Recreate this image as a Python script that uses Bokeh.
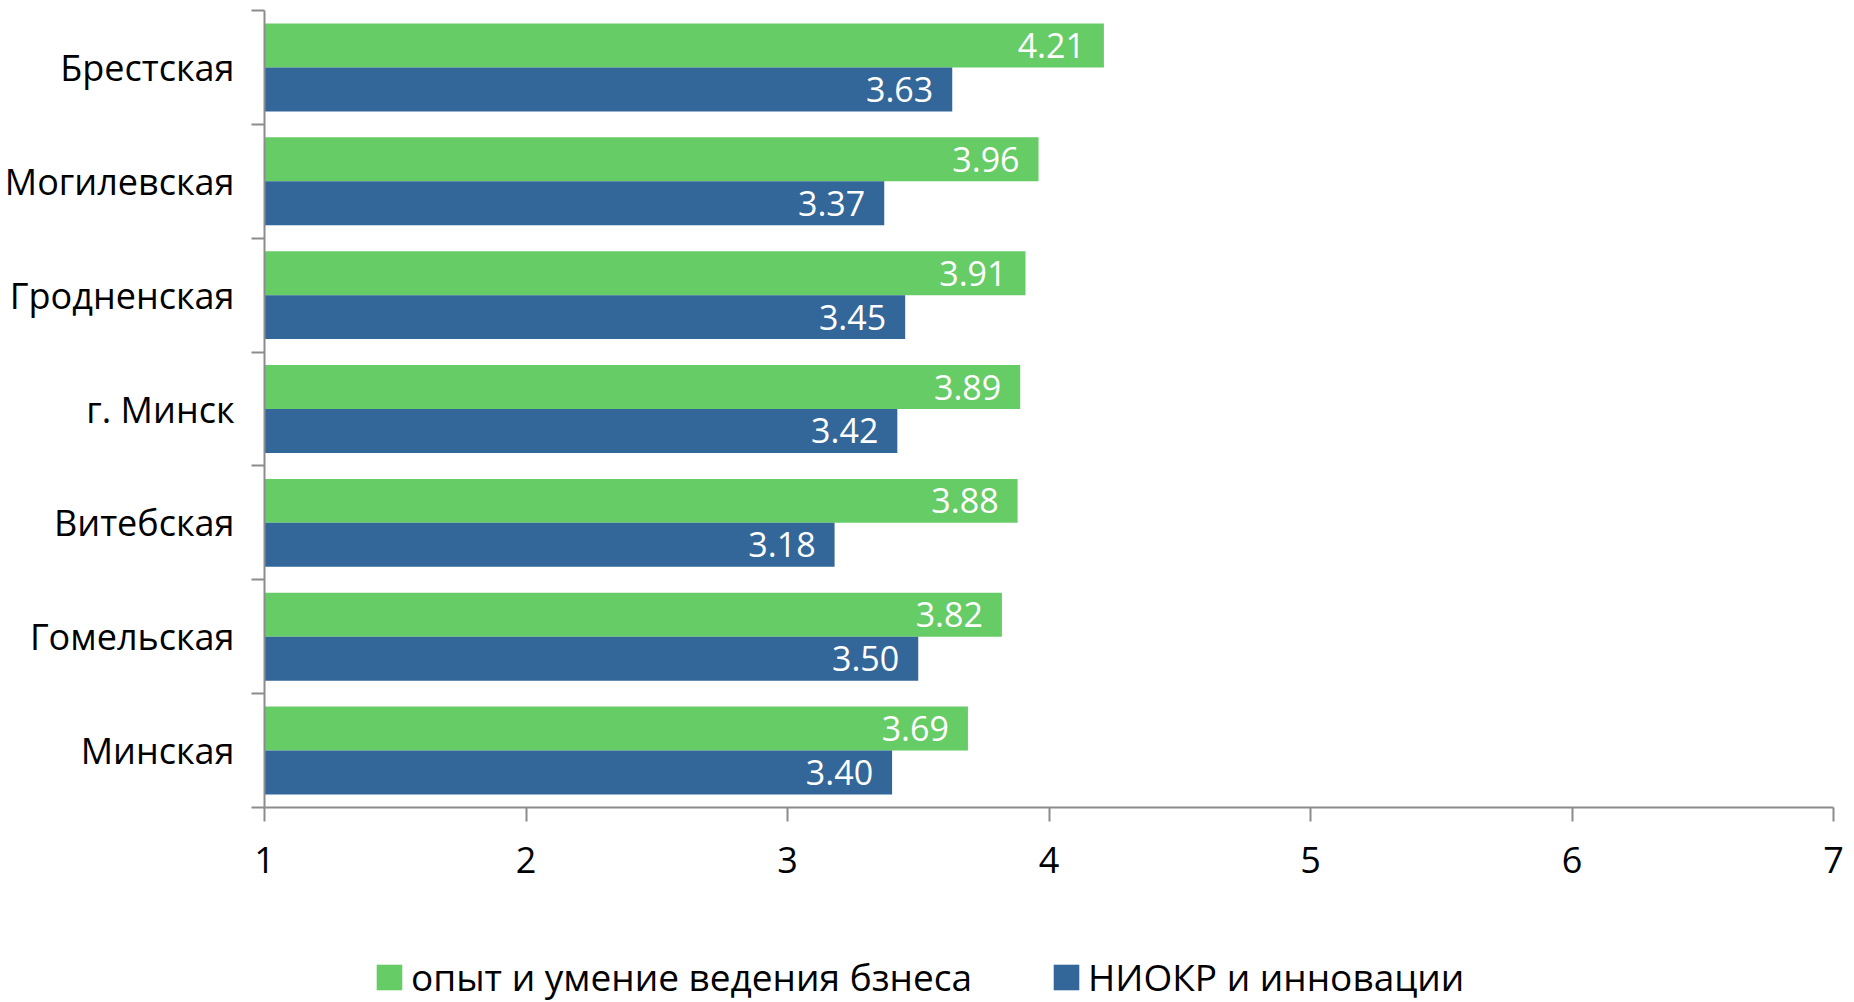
from bokeh.plotting import figure
from bokeh.models import ColumnDataSource, LabelSet, Legend, LegendItem, FixedTicker, Range1d
from bokeh.layouts import column
from bokeh.core.properties import value
from bokeh.embed import file_html
from bokeh.resources import INLINE

regions = ["Брестская", "Могилевская", "Гродненская", "г. Минск", "Витебская", "Гомельская", "Минская"]
business = [4.21, 3.96, 3.91, 3.89, 3.88, 3.82, 3.69]
rnd = [3.63, 3.37, 3.45, 3.42, 3.18, 3.50, 3.40]
series_names = ["опыт и умение ведения бзнеса", "НИОКР и инновации"]
x_ticks = [1, 2, 3, 4, 5, 6, 7]

n = len(regions)
centers = [n - i - 0.5 for i in range(n)]
bh = 0.386
FONT = "Open Sans"
GREEN = "#66CC66"
BLUE = "#336699"
AXIS = "#8c8c8c"
LEFT, RIGHT = 264, 21

src = ColumnDataSource(dict(
    y_g=[c + bh / 2 for c in centers],
    y_b=[c - bh / 2 for c in centers],
    g=business, b=rnd,
    gl=["%.2f" % v for v in business],
    bl=["%.2f" % v for v in rnd],
))

p = figure(width=1854, height=900, output_backend="svg", toolbar_location=None,
           x_range=Range1d(1, 7), y_range=Range1d(0, n),
           min_border_left=LEFT, min_border_right=RIGHT, min_border_top=10, min_border_bottom=93)
p.outline_line_color = None
p.xgrid.visible = False
p.ygrid.visible = False

rg = p.hbar(y="y_g", left=1, right="g", height=bh, source=src, fill_color=GREEN, line_color=None)
rb = p.hbar(y="y_b", left=1, right="b", height=bh, source=src, fill_color=BLUE, line_color=None)

for col, ycol, xcol in (("gl", "y_g", "g"), ("bl", "y_b", "b")):
    p.add_layout(LabelSet(x=xcol, y=ycol, text=col, source=src, x_offset=-19,
                          text_align="right", text_baseline="middle", text_color="white",
                          text_font=value(FONT), text_font_size=value("34px")))

# x axis
p.xaxis.ticker = FixedTicker(ticks=x_ticks)
p.xaxis.axis_line_color = AXIS
p.xaxis.axis_line_width = 2
p.xaxis.major_tick_line_color = AXIS
p.xaxis.major_tick_line_width = 2
p.xaxis.major_tick_out = 14
p.xaxis.major_tick_in = 0
p.xaxis.minor_tick_line_color = None
p.xaxis.major_label_text_font = FONT
p.xaxis.major_label_text_font_size = "36px"
p.xaxis.major_label_text_color = "black"
p.xaxis.major_label_standoff = 25

# y axis: labels at centers, ticks at boundaries (minor ticks)
p.yaxis.ticker = FixedTicker(ticks=centers, minor_ticks=[float(i) for i in range(n + 1)])
p.yaxis.major_label_overrides = {c: r for c, r in zip(centers, regions)}
p.yaxis.axis_line_color = AXIS
p.yaxis.axis_line_width = 2
p.yaxis.major_tick_line_color = None
p.yaxis.minor_tick_line_color = AXIS
p.yaxis.minor_tick_line_width = 2
p.yaxis.minor_tick_out = 13
p.yaxis.minor_tick_in = 0
p.yaxis.major_label_text_font = FONT
p.yaxis.major_label_text_font_size = "36px"
p.yaxis.major_label_text_color = "black"
p.yaxis.major_label_standoff = 17

# legend strip below the chart (swatches use zero-width bars so only the legend shows)
lp = figure(width=1854, height=102, output_backend="svg", toolbar_location=None,
            x_axis_type=None, y_axis_type=None, x_range=Range1d(0, 1), y_range=Range1d(0, 1),
            min_border_left=LEFT, min_border_right=RIGHT, min_border_top=0, min_border_bottom=0)
lp.outline_line_color = None
lg = lp.hbar(y=[0.5], left=[0], right=[0], height=0.5, fill_color=GREEN, line_color=None)
lb = lp.hbar(y=[0.5], left=[0], right=[0], height=0.5, fill_color=BLUE, line_color=None)
legend = Legend(items=[LegendItem(label=series_names[0], renderers=[lg]),
                       LegendItem(label=series_names[1], renderers=[lb])],
                orientation="horizontal", location=(373 - LEFT, 0),
                glyph_width=32, glyph_height=32, label_standoff=6, spacing=78,
                padding=0, margin=0, border_line_color=None, background_fill_alpha=0,
                label_text_font=FONT, label_text_font_size="37px", label_text_color="black",
                label_height=32)
lp.add_layout(legend, "center")

layout = column(p, lp, spacing=0)
open("out.html", "w").write(file_html(layout, INLINE))
